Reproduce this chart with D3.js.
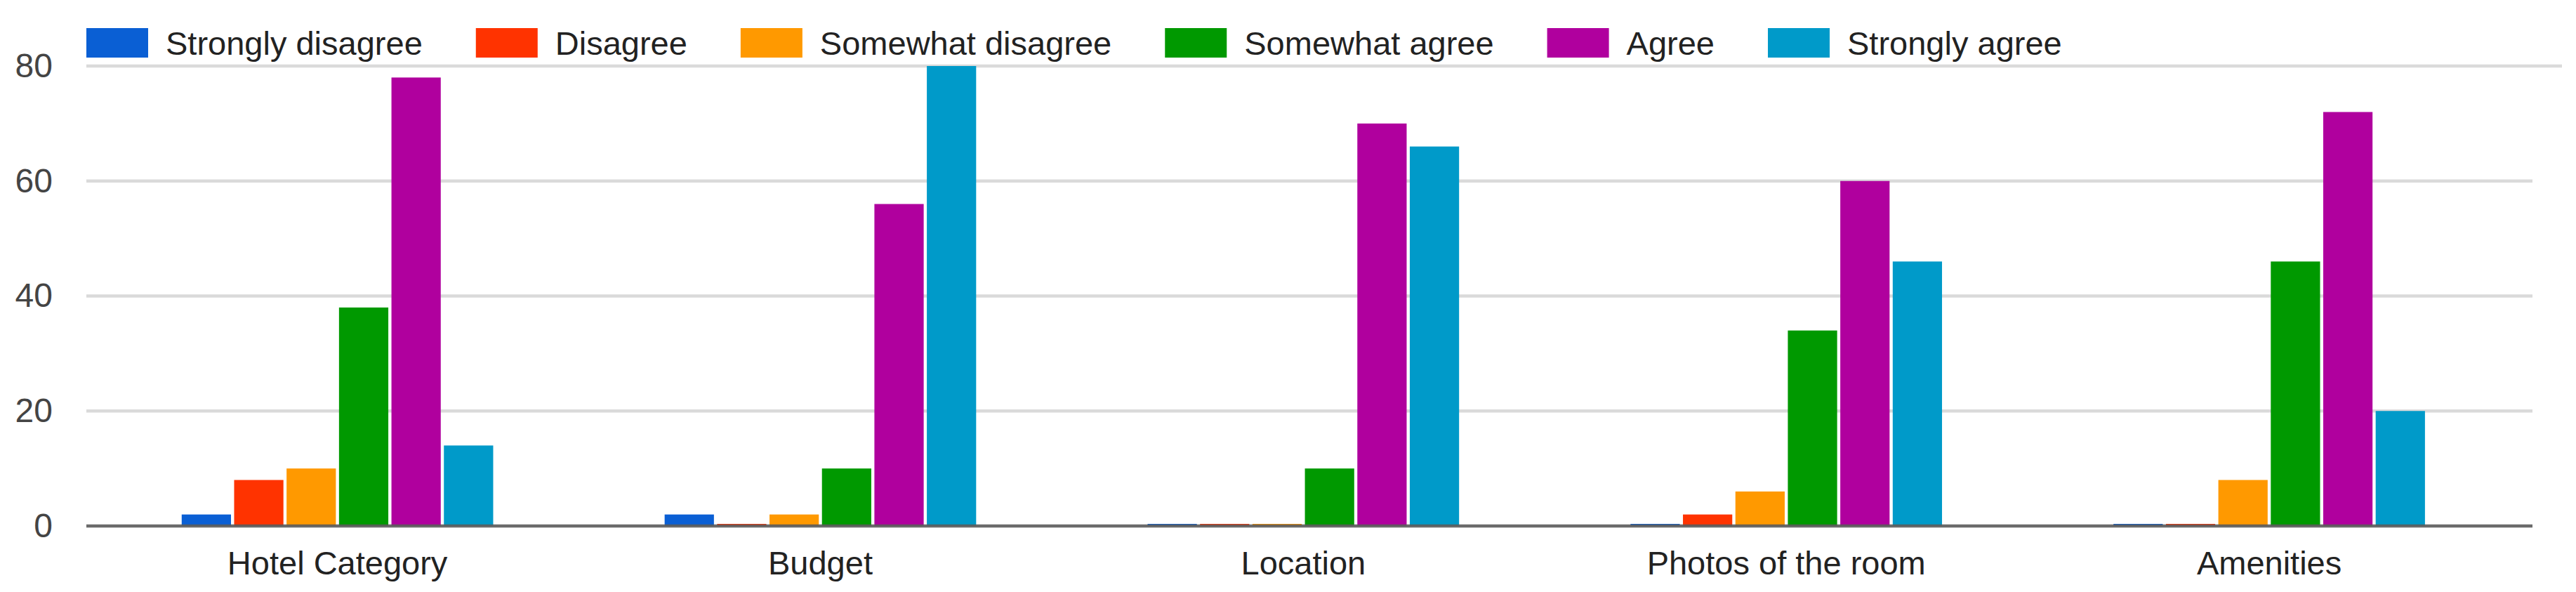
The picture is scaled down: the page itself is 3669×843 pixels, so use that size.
<!DOCTYPE html>
<html>
<head>
<meta charset="utf-8">
<script src="https://cdn.jsdelivr.net/npm/d3@7"></script>
<style>
  body { margin: 0; background: #fff; }
  svg { display: block; font-family: "Liberation Sans", Arial, sans-serif; }
</style>
</head>
<body>
<div id="graf"></div>
<script>
const categories = ["Hotel Category", "Budget", "Location", "Photos of the room", "Amenities"]
const series = ["Strongly disagree", "Disagree", "Somewhat disagree", "Somewhat agree", "Agree", "Strongly agree"]
const colors = ["#0a5fd4", "#ff3300", "#ff9900", "#009900", "#b0009e", "#009ac9"]

// one array per answer, in category order
const stronglyDisagree = [2, 2, 0, 0, 0]
const disagree = [8, 0, 0, 2, 0]
const somewhatDisagree = [10, 2, 0, 6, 8]
const somewhatAgree = [38, 10, 10, 34, 46]
const agree = [78, 56, 70, 60, 72]
const stronglyAgree = [14, 80, 66, 46, 20]

const yTicks = [0, 20, 40, 60, 80]

const values = [stronglyDisagree, disagree, somewhatDisagree, somewhatAgree, agree, stronglyAgree]
const data = categories.map((c, i) => ({
  cat: c,
  vals: series.map((s, j) => ({ key: s, value: values[j][i] }))
}))

const anchoTotal = 3669
const altoTotal = 843
const margins = { left: 123, top: 94, right: 62, bottom: 94 }
const ancho = anchoTotal - margins.left - margins.right
const alto = altoTotal - margins.top - margins.bottom

const svg = d3.select("#graf")
  .append("svg")
  .attr("width", anchoTotal)
  .attr("height", altoTotal)

const g = svg.append("g")
  .attr("transform", `translate(${margins.left}, ${margins.top})`)

const x0 = d3.scaleBand()
  .domain(categories)
  .range([0, ancho])
  .paddingInner(0.355)
  .paddingOuter(0.21)
  .align(0.47)

const x1 = d3.scaleBand()
  .domain(series)
  .range([0, x0.bandwidth()])
  .paddingInner(0.06)

const y = d3.scaleLinear().domain([0, 80]).range([alto, 0])

const color = d3.scaleOrdinal().domain(series).range(colors)

// gridlines (the top one runs a little further, like the original)
g.append("g")
  .selectAll("line")
  .data(yTicks.filter((d) => d > 0))
  .join("line")
  .attr("x1", 0)
  .attr("x2", (d) => (d === 80 ? ancho + 42 : ancho))
  .attr("y1", (d) => y(d))
  .attr("y2", (d) => y(d))
  .attr("stroke", "#dadada")
  .attr("stroke-width", 4.5)

// y labels
const yAxis = g.append("g")
  .call(d3.axisLeft(y).tickValues(yTicks).tickSize(0).tickPadding(48))
yAxis.select(".domain").remove()
yAxis.selectAll("text")
  .attr("font-size", 48)
  .attr("font-family", "Liberation Sans, Arial, sans-serif")
  .attr("fill", "#444")

// bars
g.append("g")
  .selectAll("g")
  .data(data)
  .join("g")
  .attr("transform", (d) => `translate(${x0(d.cat)}, 0)`)
  .selectAll("rect")
  .data((d) => d.vals)
  .join("rect")
  .attr("x", (d) => x1(d.key))
  .attr("y", (d) => y(d.value) - (d.value === 0 ? 3 : 0))
  .attr("width", x1.bandwidth())
  .attr("height", (d) => y(0) - y(d.value) + (d.value === 0 ? 3 : 0))
  .attr("fill", (d) => color(d.key))

// baseline
g.append("line")
  .attr("x1", 0)
  .attr("x2", ancho)
  .attr("y1", y(0))
  .attr("y2", y(0))
  .attr("stroke", "#5c5c5c")
  .attr("stroke-width", 4.5)
  .attr("opacity", 0.9)

// category labels
const xAxis = g.append("g")
  .attr("transform", `translate(0, ${alto})`)
  .call(d3.axisBottom(x0).tickSize(0).tickPadding(36))
xAxis.select(".domain").remove()
xAxis.selectAll("text")
  .attr("font-size", 47)
  .attr("font-family", "Liberation Sans, Arial, sans-serif")
  .attr("fill", "#222")

// legend
const legend = svg.append("g")
let lx = 123
series.forEach((s) => {
  const item = legend.append("g").attr("transform", `translate(${lx}, 0)`)
  item.append("rect")
    .attr("x", 0)
    .attr("y", 40)
    .attr("width", 88)
    .attr("height", 42)
    .attr("fill", color(s))
  const t = item.append("text")
    .attr("x", 113)
    .attr("y", 78)
    .attr("font-size", 47)
    .attr("fill", "#222")
    .text(s)
  lx += 113 + t.node().getComputedTextLength() + 76
})
</script>
</body>
</html>
